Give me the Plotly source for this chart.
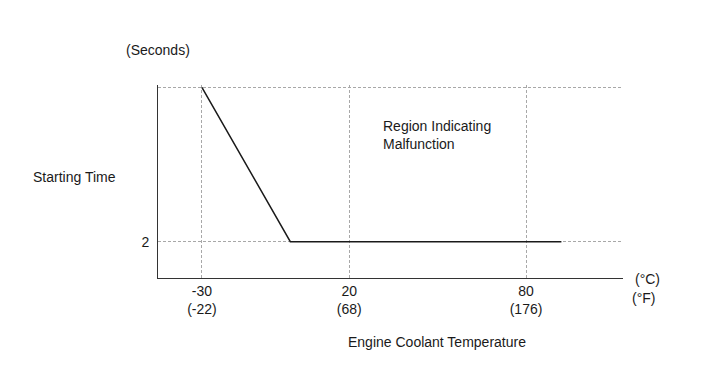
import plotly.graph_objects as go

# Data
temp_c = [-30, 0, 92]          # engine coolant temperature, °C
start_time = [10.5, 2, 2]      # starting time, seconds
tick_c = [-30, 20, 80]
tick_f = ["(-22)", "(68)", "(176)"]
y_ticks = [2, 10.5]
y_ticktext = ["2", ""]

FONT = "Liberation Sans, Arial, sans-serif"
TXT = "#1a1a1a"
FS = 14

W, H = 713, 381
OFF = 8  # page body margin
L, R, T, B = 158, 623, 85, 278   # plot area in screen pixels

fig = go.Figure()
fig.add_trace(go.Scatter(
    x=temp_c, y=start_time, mode="lines",
    line=dict(color="#1a1a1a", width=1.5),
    hoverinfo="skip", showlegend=False,
))

fig.update_layout(
    width=W, height=H,
    margin=dict(l=L - OFF, r=W - (R - OFF), t=T - OFF, b=H - (B - OFF)),
    paper_bgcolor="white", plot_bgcolor="white",
    font=dict(family=FONT, size=FS, color=TXT),
    showlegend=False,
    xaxis=dict(
        range=[-44.9, 112.9],
        tickvals=tick_c,
        ticktext=[f"{c}<br>{f}" for c, f in zip(tick_c, tick_f)],
        showgrid=True, gridcolor="#a8a8a8", griddash="3px,2px", gridwidth=1,
        showline=True, linecolor="#333333", linewidth=1,
        zeroline=False, ticks="", ticklen=0,
        tickfont=dict(family=FONT, size=FS, color=TXT),
        fixedrange=True,
    ),
    yaxis=dict(
        range=[0, 10.63],
        tickvals=y_ticks, ticktext=y_ticktext,
        showgrid=True, gridcolor="#a8a8a8", griddash="3px,2px", gridwidth=1,
        showline=True, linecolor="#333333", linewidth=1,
        zeroline=False, ticks="", ticklen=0, ticklabelstandoff=5,
        tickfont=dict(family=FONT, size=FS, color=TXT),
        fixedrange=True,
    ),
)

def px(xp):
    return (xp - L) / (R - L)
def py(yp):
    return (B - yp) / (B - T)

def ann(text, x, y, xanchor="center", yanchor="middle", align="center"):
    fig.add_annotation(text=text, x=px(x), y=py(y), xref="paper", yref="paper",
                       xanchor=xanchor, yanchor=yanchor, align=align,
                       showarrow=False, font=dict(family=FONT, size=FS, color=TXT))

ann("(Seconds)", 158, 50)
ann("Starting Time", 31, 177, xanchor="left")
ann("Region Indicating<br>Malfunction", 381, 135, xanchor="left", align="left")
ann("(°C)", 647, 279)
ann("(°F)", 643, 298)
ann("Engine Coolant Temperature", 437, 342)

fig.write_html("out.html")
